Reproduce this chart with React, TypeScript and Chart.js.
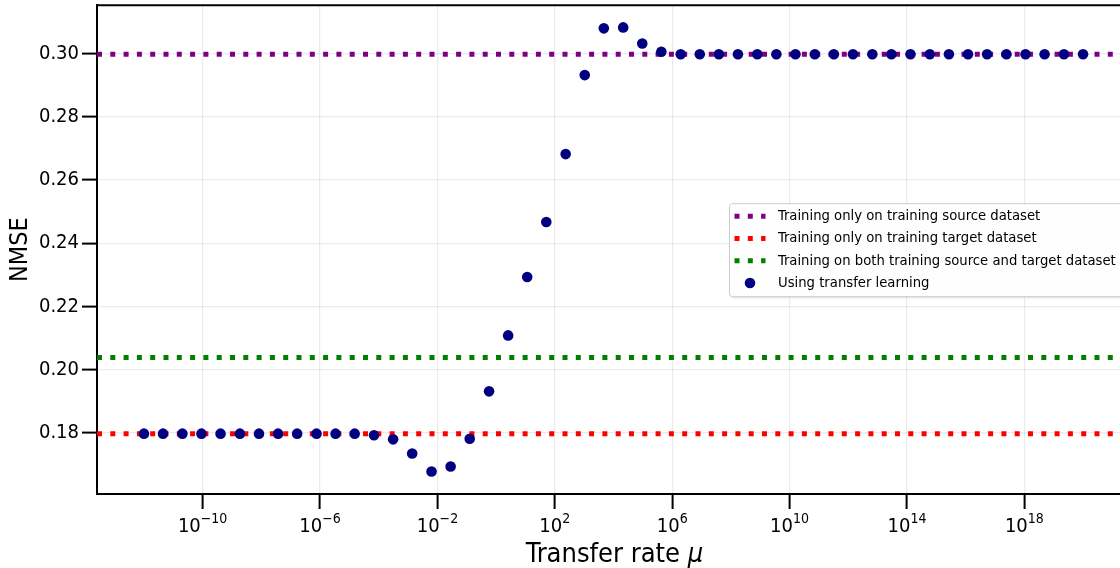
import React, { useEffect, useRef } from 'react';
import { Chart, registerables } from 'chart.js';

Chart.register(...registerables);

// log10 of the transfer rate mu for each point
const MU_EXPONENTS = [
  -12.0, -11.35, -10.69, -10.04, -9.39, -8.73, -8.08, -7.43, -6.78, -6.12,
  -5.47, -4.82, -4.16, -3.51, -2.86, -2.2, -1.55, -0.9, -0.24, 0.41,
  1.06, 1.71, 2.37, 3.02, 3.67, 4.33, 4.98, 5.63, 6.29, 6.94,
  7.59, 8.24, 8.9, 9.55, 10.2, 10.86, 11.51, 12.16, 12.82, 13.47,
  14.12, 14.78, 15.43, 16.08, 16.73, 17.39, 18.04, 18.69, 19.35, 20.0,
];

const NMSE_TRANSFER = [
  0.1797, 0.1797, 0.1797, 0.1797, 0.1797, 0.1797, 0.1797, 0.1797, 0.1797, 0.1797,
  0.1797, 0.1797, 0.1792, 0.1779, 0.1734, 0.1677, 0.1693, 0.1781, 0.1931, 0.2108,
  0.2293, 0.2467, 0.2682, 0.2932, 0.308, 0.3083, 0.3032, 0.3006, 0.2998, 0.2998,
  0.2998, 0.2998, 0.2998, 0.2998, 0.2998, 0.2998, 0.2998, 0.2998, 0.2998, 0.2998,
  0.2998, 0.2998, 0.2998, 0.2998, 0.2998, 0.2998, 0.2998, 0.2998, 0.2998, 0.2998,
];

const NMSE_SOURCE_ONLY = 0.2998;
const NMSE_TARGET_ONLY = 0.1797;
const NMSE_BOTH = 0.2038;

const X_TICK_EXPONENTS = [-10, -6, -2, 2, 6, 10, 14, 18];
const Y_TICKS = [0.18, 0.2, 0.22, 0.24, 0.26, 0.28, 0.3];
const X_MIN_EXP = -13.6;
const X_MAX_EXP = 21.6;
const Y_MIN = 0.1606;
const Y_MAX = 0.3153;

const LEGEND_LABELS = [
  'Training only on training source dataset',
  'Training only on training target dataset',
  'Training on both training source and target dataset',
  'Using transfer learning',
];
const X_TITLE_TEXT = 'Transfer rate ';
const X_TITLE_SYMBOL = 'μ';
const Y_TITLE_TEXT = 'NMSE';

const FONT = "'DejaVu Sans Condensed', 'DejaVu Sans', sans-serif";
const C_SOURCE = '#800080';
const C_TARGET = '#ff0000';
const C_BOTH = '#008000';
const C_POINTS = '#000080';
const GRID = 'rgba(0,0,0,0.08)';
const DOT_DASH = [5, 8.3];
const DOT_WIDTH = 5;
const POINT_R = 5.3;

const hline = (label: string, value: number, color: string) => ({
  type: 'line' as const,
  label,
  data: [
    { x: Math.pow(10, X_MIN_EXP), y: value },
    { x: Math.pow(10, X_MAX_EXP), y: value },
  ],
  borderColor: color,
  backgroundColor: color,
  borderWidth: DOT_WIDTH,
  borderDash: DOT_DASH,
  borderCapStyle: 'butt' as const,
  pointRadius: 0,
  fill: false,
  order: 1,
});

const framePlugin = {
  id: 'frame',
  afterDatasetsDraw(chart: any) {
    const { ctx, chartArea: a } = chart;
    ctx.save();
    ctx.strokeStyle = '#000';
    ctx.lineWidth = 2;
    ctx.beginPath();
    ctx.moveTo(a.left, a.top);
    ctx.lineTo(a.right, a.top);
    ctx.lineTo(a.right, a.bottom);
    ctx.stroke();
    ctx.restore();
  },
};

const xLabelsPlugin = {
  id: 'xLabels',
  afterDraw(chart: any) {
    const { ctx, chartArea: a } = chart;
    const xs = chart.scales.x;
    ctx.save();
    ctx.fillStyle = '#000';
    ctx.textBaseline = 'alphabetic';
    ctx.textAlign = 'left';
    for (const e of X_TICK_EXPONENTS) {
      const px = xs.getPixelForValue(Math.pow(10, e));
      const base = '10';
      const exp = e < 0 ? '\u2212' + Math.abs(e) : String(e);
      ctx.font = `20px ${FONT}`;
      const w1 = ctx.measureText(base).width;
      ctx.font = `14px ${FONT}`;
      const w2 = ctx.measureText(exp).width;
      const x0 = px - (w1 + w2) / 2;
      ctx.font = `20px ${FONT}`;
      ctx.fillText(base, x0, a.bottom + 38);
      ctx.font = `14px ${FONT}`;
      ctx.fillText(exp, x0 + w1, a.bottom + 29);
    }
    // x axis title
    ctx.font = `27px ${FONT}`;
    const t1 = ctx.measureText(X_TITLE_TEXT).width;
    ctx.font = `italic 27px ${FONT}`;
    const t2 = ctx.measureText(X_TITLE_SYMBOL).width;
    const cx = (a.left + a.right) / 2 + 1;
    const sx = cx - (t1 + t2) / 2;
    ctx.font = `27px ${FONT}`;
    ctx.fillText(X_TITLE_TEXT, sx, a.bottom + 68);
    ctx.font = `italic 27px ${FONT}`;
    ctx.fillText(X_TITLE_SYMBOL, sx + t1, a.bottom + 68);
    ctx.restore();
  },
};

const legendPlugin = {
  id: 'customLegend',
  afterDraw(chart: any) {
    const { ctx, chartArea: a } = chart;
    ctx.save();
    ctx.font = `14.7px ${FONT}`;
    let maxW = 0;
    for (const l of LEGEND_LABELS) maxW = Math.max(maxW, ctx.measureText(l).width);
    const h = 93;
    const left = a.right - 401;
    const top = (a.top + a.bottom) / 2 - h / 2;
    const w = 49 + maxW + 6;
    const r = 3;
    const rr = (x: number, y: number) => {
      ctx.beginPath();
      ctx.moveTo(x + r, y);
      ctx.lineTo(x + w - r, y);
      ctx.arcTo(x + w, y, x + w, y + r, r);
      ctx.lineTo(x + w, y + h - r);
      ctx.arcTo(x + w, y + h, x + w - r, y + h, r);
      ctx.lineTo(x + r, y + h);
      ctx.arcTo(x, y + h, x, y + h - r, r);
      ctx.lineTo(x, y + r);
      ctx.arcTo(x, y, x + r, y, r);
      ctx.closePath();
    };
    rr(left + 2, top + 2.5);
    ctx.fillStyle = 'rgba(0,0,0,0.07)';
    ctx.fill();
    rr(left + 0.5, top + 0.5);
    ctx.fillStyle = 'rgba(255,255,255,0.92)';
    ctx.fill();
    ctx.strokeStyle = '#cccccc';
    ctx.lineWidth = 1;
    ctx.stroke();

    const colors = [C_SOURCE, C_TARGET, C_BOTH];
    for (let i = 0; i < LEGEND_LABELS.length; i++) {
      const y = top + 13 + i * 22.3;
      if (i < 3) {
        ctx.save();
        ctx.strokeStyle = colors[i];
        ctx.lineWidth = DOT_WIDTH;
        ctx.setLineDash(DOT_DASH);
        ctx.lineCap = 'butt';
        ctx.beginPath();
        ctx.moveTo(left + 5.5, y);
        ctx.lineTo(left + 36.5, y);
        ctx.stroke();
        ctx.restore();
      } else {
        ctx.beginPath();
        ctx.fillStyle = C_POINTS;
        ctx.arc(left + 21, y, POINT_R, 0, Math.PI * 2);
        ctx.fill();
      }
      ctx.fillStyle = '#000';
      ctx.textBaseline = 'middle';
      ctx.textAlign = 'left';
      ctx.fillText(LEGEND_LABELS[i], left + 49, y);
    }
    ctx.restore();
  },
};

export default function App() {
  const ref = useRef<HTMLCanvasElement | null>(null);

  useEffect(() => {
    if (!ref.current) return;
    const points = MU_EXPONENTS.map((e, i) => ({ x: Math.pow(10, e), y: NMSE_TRANSFER[i] }));
    const gridCommon = {
      color: GRID,
      lineWidth: 1.2,
      drawTicks: true,
      tickLength: 15,
      tickWidth: 2,
      tickColor: '#000',
    };
    const chart = new Chart(ref.current, {
      type: 'scatter',
      data: {
        datasets: [
          {
            type: 'scatter',
            label: LEGEND_LABELS[3],
            data: points,
            backgroundColor: C_POINTS,
            borderColor: C_POINTS,
            pointRadius: POINT_R,
            pointBorderWidth: 0,
            order: 0,
          } as any,
          hline(LEGEND_LABELS[0], NMSE_SOURCE_ONLY, C_SOURCE),
          hline(LEGEND_LABELS[1], NMSE_TARGET_ONLY, C_TARGET),
          hline(LEGEND_LABELS[2], NMSE_BOTH, C_BOTH),
        ],
      },
      options: {
        animation: false,
        responsive: true,
        maintainAspectRatio: false,
        events: [],
        layout: { padding: { top: 5, right: 10, left: 0, bottom: 0 } },
        plugins: {
          legend: { display: false },
          tooltip: { enabled: false },
        },
        scales: {
          x: {
            type: 'logarithmic',
            min: Math.pow(10, X_MIN_EXP),
            max: Math.pow(10, X_MAX_EXP),
            afterBuildTicks: (s: any) => {
              s.ticks = X_TICK_EXPONENTS.map((e) => ({ value: Math.pow(10, e) }));
            },
            afterFit: (s: any) => {
              s.height = 74;
              s.paddingLeft = 0;
              s.paddingRight = 0;
            },
            ticks: { display: false, autoSkip: false },
            grid: gridCommon,
            border: { color: '#000', width: 2 },
          },
          y: {
            type: 'linear',
            min: Y_MIN,
            max: Y_MAX,
            afterBuildTicks: (s: any) => {
              s.ticks = Y_TICKS.map((v) => ({ value: v }));
            },
            afterFit: (s: any) => {
              s.width = 97;
              s.paddingTop = 0;
              s.paddingBottom = 0;
            },
            ticks: {
              autoSkip: false,
              color: '#000',
              padding: 3,
              font: { family: FONT, size: 20 },
              callback: (v: any) => Number(v).toFixed(2),
            },
            grid: gridCommon,
            border: { color: '#000', width: 2 },
            title: {
              display: true,
              text: Y_TITLE_TEXT,
              color: '#000',
              font: { family: FONT, size: 25 },
              padding: { top: 5, bottom: 0 },
            },
          },
        },
      } as any,
      plugins: [framePlugin, xLabelsPlugin, legendPlugin],
    });
    return () => chart.destroy();
  }, []);

  return (
    <div
      style={{
        position: 'fixed',
        left: 0,
        top: 0,
        width: 1120,
        height: 568,
        overflow: 'hidden',
        background: '#fff',
      }}
    >
      <div style={{ position: 'absolute', left: 0, top: 0, width: 1140, height: 568 }}>
        <canvas ref={ref} />
      </div>
    </div>
  );
}
